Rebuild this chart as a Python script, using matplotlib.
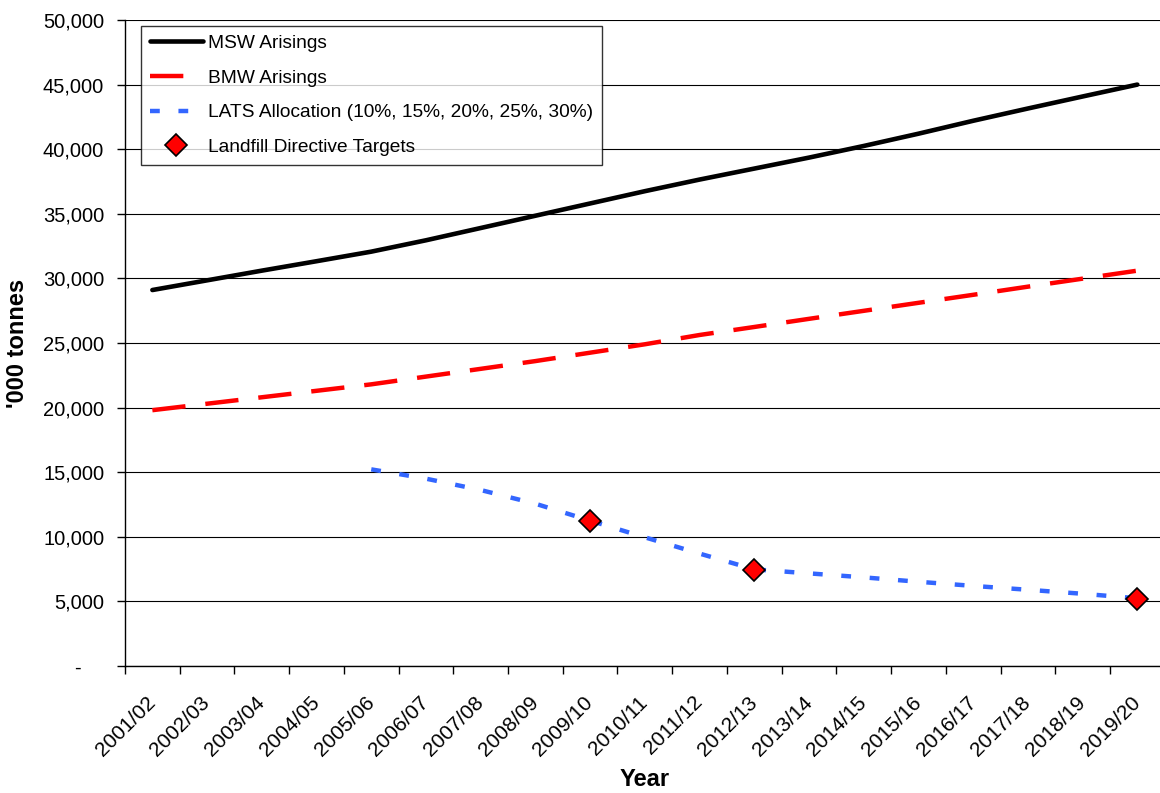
import numpy as np
import matplotlib
matplotlib.use("Agg")
import matplotlib.pyplot as plt
from matplotlib.ticker import FixedLocator, FuncFormatter

plt.rcParams['font.family'] = ['Liberation Sans', 'DejaVu Sans']

years = ["2001/02", "2002/03", "2003/04", "2004/05", "2005/06", "2006/07",
         "2007/08", "2008/09", "2009/10", "2010/11", "2011/12", "2012/13",
         "2013/14", "2014/15", "2015/16", "2016/17", "2017/18", "2018/19",
         "2019/20"]

msw = [29100, 29850, 30600, 31330, 32070, 32950, 33900, 34850, 35800, 36750,
       37650, 38500, 39350, 40250, 41200, 42200, 43150, 44080, 45000]

bmw = [19800, 20300, 20800, 21300, 21800, 22400, 23000, 23600, 24250, 24900,
       25620, 26240, 26870, 27490, 28110, 28730, 29360, 29980, 30600]

lats = [np.nan, np.nan, np.nan, np.nan, 15220, 14500, 13620, 12560, 11250,
        9960, 8700, 7480, 7170, 6860, 6520, 6200, 5900, 5590, 5240]

target_years = ["2009/10", "2012/13", "2019/20"]
targets = [11200, 7460, 5220]

labels = ["MSW Arisings", "BMW Arisings",
          "LATS Allocation (10%, 15%, 20%, 25%, 30%)",
          "Landfill Directive Targets"]

W, H = 1160, 793
fig = plt.figure(figsize=(W / 100, H / 100), dpi=100)
left, right, top, bottom = 125, 1164.7, 20, 666
ax = fig.add_axes([left / W, 1 - bottom / H, (right - left) / W, (bottom - top) / H])

x = np.arange(len(years))
tx = [years.index(t) for t in target_years]

ax.plot(x, msw, color='black', lw=3.3, solid_capstyle='round', label=labels[0], zorder=3)
ax.plot(x, bmw, color='#FF0000', lw=3.2, dashes=(7.5, 4.5), label=labels[1], zorder=3)
ax.plot(x, lats, color='#3366FF', lw=3.2, dashes=(2.2, 4.2), label=labels[2], zorder=3)
ax.plot(tx, targets, linestyle='none', marker='D', ms=11, mfc='#FF0000',
        mec='black', mew=1.2, label=labels[3], zorder=4)

ax.set_xlim(-0.5, len(years) - 0.5)
ax.set_ylim(0, 50000)

ax.yaxis.set_major_locator(FixedLocator(np.arange(0, 50001, 5000)))
ax.yaxis.set_major_formatter(FuncFormatter(lambda v, p: "-    " if v == 0 else f"{int(v):,}"))
ax.yaxis.grid(True, color='black', lw=0.8)
ax.set_axisbelow(True)

ax.set_xticks(x)
ax.set_xticklabels(years, rotation=45, ha='right', va='center', rotation_mode='anchor')
ax.set_xticks(np.arange(-0.5, len(years), 1), minor=True)
ax.tick_params(axis='x', which='major', length=0, pad=24, labelsize=15)
ax.tick_params(axis='x', which='minor', length=6, width=1, direction='out')
ax.tick_params(axis='y', length=6, width=1, direction='out', pad=9, labelsize=14.5)

for s in ['top', 'right']:
    ax.spines[s].set_visible(False)
for s in ['left', 'bottom']:
    ax.spines[s].set_color('black')
    ax.spines[s].set_linewidth(1.0)

ax.set_ylabel("'000 tonnes", fontsize=17, fontweight='bold', labelpad=10)
ax.set_xlabel("Year", fontsize=17, fontweight='bold')
ax.xaxis.set_label_coords(0.5, -0.158)

leg = ax.legend(loc='upper left', bbox_to_anchor=(141 / W, 1 - 26 / H),
                bbox_transform=fig.transFigure, fontsize=13.8, frameon=True,
                fancybox=False, shadow=False, borderaxespad=0, borderpad=0.45,
                labelspacing=0.9, handlelength=2.8, handletextpad=0.25)
leg.get_frame().set_edgecolor('black')
leg.get_frame().set_linewidth(1.0)

fig.savefig("out.png", dpi=100)
